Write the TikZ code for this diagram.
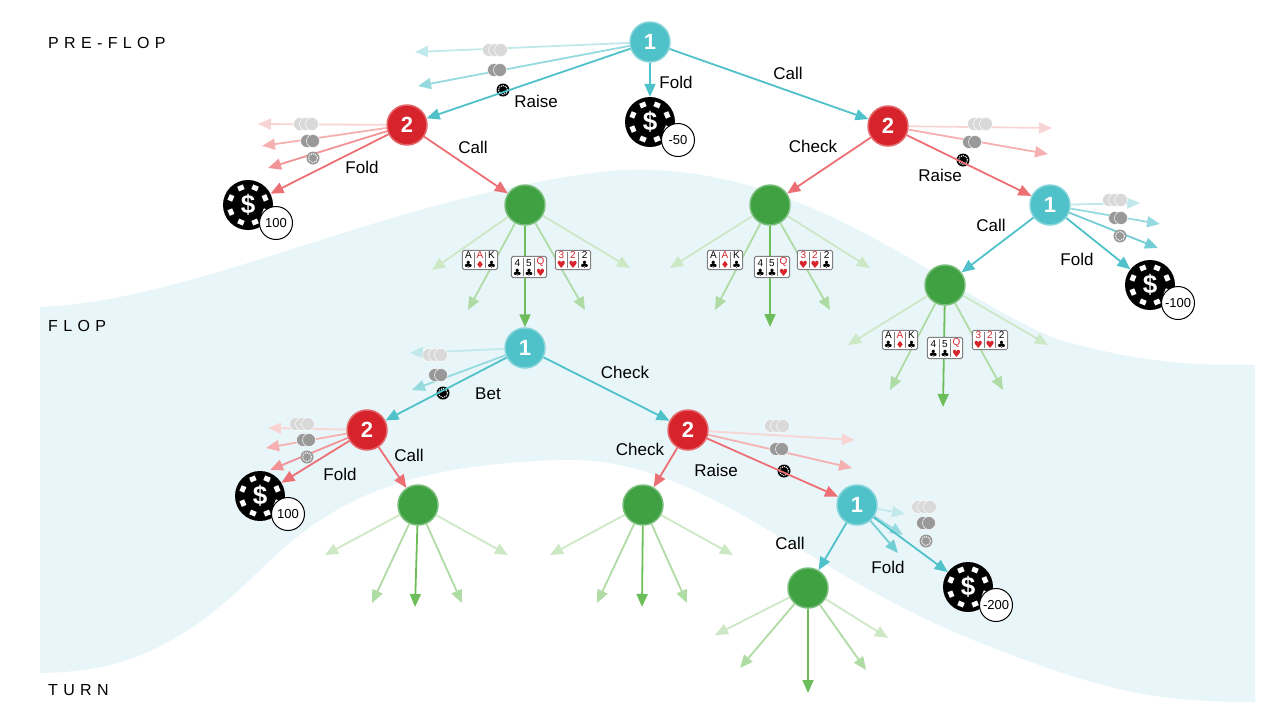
\documentclass[tikz,border=0pt]{standalone}
\usepackage{fontspec}
\setmainfont{Liberation Sans}
\newfontfamily\symf{DejaVu Sans}
\usetikzlibrary{arrows.meta,calc}
\definecolor{cy}{HTML}{4FC1C9}
\definecolor{rd}{HTML}{D7242C}
\definecolor{gn}{HTML}{3FA142}
\definecolor{pk}{HTML}{EC6F74}
\definecolor{ga}{HTML}{6DBE5A}
\definecolor{bg}{HTML}{E9F6F9}
\tikzset{
 arr/.style={-{Triangle[length=13pt,width=11pt]},line width=1.8pt},
 pone/.style={circle,fill=cy,draw=cy!70!white,line width=1.5pt,minimum size=40pt,inner sep=0pt,text=white,font=\fontsize{22}{22}\selectfont\bfseries},
 ptwo/.style={pone,fill=rd,draw=rd!70!white},
 chance/.style={circle,fill=gn,draw=gn!70!white,line width=1.5pt,minimum size=40pt,inner sep=0pt},
 lbl/.style={font=\fontsize{17}{17}\selectfont,inner sep=1pt},
 stage/.style={font=\fontsize{16}{16}\selectfont,anchor=west,inner sep=0pt},
 bchip/.style={circle,fill=black,minimum size=50pt,inner sep=0pt,text=white,font=\fontsize{26}{26}\selectfont\bfseries},
 vchip/.style={circle,fill=white,draw=black,line width=1pt,minimum size=33pt,inner sep=0pt,font=\fontsize{13}{13}\selectfont},
 cards/.style={draw=gray,fill=white,rounded corners=1.5pt,line width=1pt,inner sep=1.5pt,font=\fontsize{10}{10}\selectfont}
}
\newcommand\BigChip[3]{%
 \node[bchip] (#1) at (#2) {\$};
 \foreach \a in {22.5,67.5,...,337.5}{\fill[white,rotate around={\a:(#1)}] ($(#1)+(16,-3)$) rectangle ++(5,6);}
 \node[vchip] (#1v) at ($(#1)+(28,18)$) {#3};}
\newcommand\ChipC[2]{\node[circle,minimum size=13pt,inner sep=0pt] (#1) at (#2) {};
 \foreach \d in {-6,0,6}{\fill[gray!30,draw=white,line width=0.5pt] ($(#1)+(\d,0)$) circle (6.5pt);}}
\newcommand\ChipB[2]{\node[circle,minimum size=13pt,inner sep=0pt] (#1) at (#2) {};
 \foreach \d in {-3,3}{\fill[gray!80,draw=white,line width=0.5pt] ($(#1)+(\d,0)$) circle (6.5pt);}}
\newcommand\ChipA[3]{\node[circle,fill=#3,minimum size=13pt,inner sep=0pt] (#1) at (#2) {};
 \draw[white,densely dotted,line width=1pt] (#1) circle (4.5pt);}
\newcommand\cc[3]{\textcolor{#3}{\shortstack{#1\\[-1pt]{\symf #2}}}}
\newcommand\sep{\hspace{1pt}\textcolor{gray}{\vrule width 0.6pt}\hspace{1pt}}
\newcommand\CardsAAK{\cc{A}{♣}{black}\sep\cc{A}{♦}{rd}\sep\cc{K}{♣}{black}}
\newcommand\CardsFQ{\cc{4}{♣}{black}\sep\cc{5}{♣}{black}\sep\cc{Q}{♥}{rd}}
\newcommand\CardsTT{\cc{3}{♥}{rd}\sep\cc{2}{♥}{rd}\sep\cc{2}{♣}{black}}
\begin{document}
\begin{tikzpicture}[x=1pt,y=-1pt]
\useasboundingbox (0,0) rectangle (1280,721);
% background band
\fill[bg] (40,307) .. controls (200,300) and (380,200) .. (600,172)
 .. controls (800,150) and (950,300) .. (1060,340)
 .. controls (1150,365) and (1200,365) .. (1255,365)
 -- (1255,702) .. controls (1150,702) and (1100,690) .. (973,640)
 .. controls (800,570) and (700,455) .. (560,460)
 .. controls (420,465) and (340,490) .. (260,570)
 .. controls (180,650) and (120,672) .. (40,673) -- cycle;
\node[stage] at (48,43) {P\,\,R\,\,E\,\,-\,\,F\,\,L\,\,O\,\,P};
\node[stage] at (48,326) {F\,\,L\,\,O\,\,P};
\node[stage] at (48,690) {T\,\,U\,\,R\,\,N};

% ---------- nodes ----------
\node[pone] (A) at (650,42) {1};
\node[ptwo] (B) at (407,125) {2};
\node[ptwo] (C) at (888,126) {2};
\node[chance] (G1) at (525,205) {};
\node[chance] (G2) at (770,205) {};
\node[pone] (D) at (1050,205) {1};
\node[chance] (G3) at (945,285) {};
\node[pone] (E) at (525,348) {1};
\node[ptwo] (F) at (367,430) {2};
\node[ptwo] (H) at (688,430) {2};
\node[chance] (G4) at (418,505) {};
\node[chance] (G5) at (643,505) {};
\node[pone] (I) at (857,505) {1};
\node[chance] (G6) at (808,588) {};
\BigChip{Ka}{650,122}{-50}
\BigChip{Kb}{248,205}{100}
\BigChip{Kc}{1150,285}{-100}
\BigChip{Kd}{260,496}{100}
\BigChip{Ke}{968,587}{-200}

% ---------- ghost arrows ----------
\coordinate (a1) at (415,52); \coordinate (a2) at (418,86);
\draw[arr,cy!35] (A) -- (a1); \draw[arr,cy!60] (A) -- (a2);
\ChipC{ca1}{495,50} \ChipB{ca2}{497,70} \ChipA{ca3}{503,90}{black}
\coordinate (b1) at (258,124); \coordinate (b2) at (262,146); \coordinate (b3) at (268,168);
\draw[arr,pk!30] (B) -- (b1); \draw[arr,pk!55] (B) -- (b2); \draw[arr,pk!75] (B) -- (b3);
\ChipC{cb1}{306,124} \ChipB{cb2}{310,141} \ChipA{cb3}{313,158}{gray!80}
\coordinate (c1) at (1052,128); \coordinate (c2) at (1048,154);
\draw[arr,pk!30] (C) -- (c1); \draw[arr,pk!55] (C) -- (c2);
\ChipC{cc1}{980,124} \ChipB{cc2}{972,142} \ChipA{cc3}{963,160}{black}
\coordinate (d1) at (1140,203); \coordinate (d2) at (1160,224); \coordinate (d3) at (1158,248);
\draw[arr,cy!35] (D) -- (d1); \draw[arr,cy!60] (D) -- (d2); \draw[arr,cy!80] (D) -- (d3);
\ChipC{cd1}{1115,200} \ChipB{cd2}{1118,218} \ChipA{cd3}{1120,236}{gray!80}
\coordinate (e1) at (410,353); \coordinate (e2) at (412,390);
\draw[arr,cy!35] (E) -- (e1); \draw[arr,cy!60] (E) -- (e2);
\ChipC{ce1}{435,355} \ChipB{ce2}{438,375} \ChipA{ce3}{443,393}{black}
\coordinate (f1) at (268,428); \coordinate (f2) at (266,448); \coordinate (f3) at (270,470);
\draw[arr,pk!30] (F) -- (f1); \draw[arr,pk!55] (F) -- (f2); \draw[arr,pk!75] (F) -- (f3);
\ChipC{cf1}{302,424} \ChipB{cf2}{306,440} \ChipA{cf3}{307,457}{gray!80}
\coordinate (h1) at (855,440); \coordinate (h2) at (852,468);
\draw[arr,pk!30] (H) -- (h1); \draw[arr,pk!55] (H) -- (h2);
\ChipC{ch1}{777,426} \ChipB{ch2}{779,449} \ChipA{ch3}{784,471}{black}
\coordinate (i1) at (905,514); \coordinate (i2) at (903,535); \coordinate (i3) at (898,553);
\draw[arr,cy!35] (I) -- (i1); \draw[arr,cy!60] (I) -- (i2); \draw[arr,cy!80] (I) -- (i3);
\ChipC{ci1}{924,507} \ChipB{ci2}{926,523} \ChipA{ci3}{926,541}{gray!80}

% ---------- real action arrows ----------
\draw[arr,cy] (A) -- (Ka); \node[lbl] at (676,82) {Fold};
\draw[arr,cy] (A) -- (B); \node[lbl] at (536,101) {Raise};
\draw[arr,cy] (A) -- (C); \node[lbl] at (788,73) {Call};
\draw[arr,pk] (B) -- (Kb); \node[lbl] at (362,167) {Fold};
\draw[arr,pk] (B) -- (G1); \node[lbl] at (473,147) {Call};
\draw[arr,pk] (C) -- (G2); \node[lbl] at (813,146) {Check};
\draw[arr,pk] (C) -- (D); \node[lbl] at (940,175) {Raise};
\draw[arr,cy] (D) -- (G3); \node[lbl] at (991,225) {Call};
\draw[arr,cy] (D) -- (Kc); \node[lbl] at (1077,259) {Fold};
\draw[arr,ga] (G1) -- (E);
\draw[arr,cy] (E) -- (F); \node[lbl] at (488,394) {Bet};
\draw[arr,cy] (E) -- (H); \node[lbl] at (625,372) {Check};
\draw[arr,pk] (F) -- (Kd); \node[lbl] at (340,474) {Fold};
\draw[arr,pk] (F) -- (G4); \node[lbl] at (409,455) {Call};
\draw[arr,pk] (H) -- (G5); \node[lbl] at (640,449) {Check};
\draw[arr,pk] (H) -- (I); \node[lbl] at (716,470) {Raise};
\draw[arr,cy] (I) -- (G6); \node[lbl] at (790,543) {Call};
\draw[arr,cy] (I) -- (Ke); \node[lbl] at (888,567) {Fold};

% ---------- chance fans ----------
\newcommand\Fan[6]{%
 \coordinate (#1l1) at ($(#1)+(#2)$); \coordinate (#1l2) at ($(#1)+(#3)$);
 \coordinate (#1m) at ($(#1)+(#4)$); \coordinate (#1r2) at ($(#1)+(#5)$); \coordinate (#1r1) at ($(#1)+(#6)$);
 \draw[arr,ga!35] (#1) -- (#1l1); \draw[arr,ga!55] (#1) -- (#1l2);
 \draw[arr,ga!55] (#1) -- (#1r2); \draw[arr,ga!35] (#1) -- (#1r1);}
\Fan{G1}{-93,65}{-57,105}{0,0}{60,105}{105,63}
\Fan{G2}{-100,63}{-55,105}{0,0}{60,105}{100,63}
\coordinate (G2m) at (770,327); \draw[arr,ga] (G2) -- (G2m);
\Fan{G3}{-97,60}{-55,105}{0,0}{58,105}{103,60}
\coordinate (G3m) at (943,407); \draw[arr,ga] (G3) -- (G3m);
\node[cards] at (480,260) {\CardsAAK}; \node[cards] at (529,267) {\CardsFQ}; \node[cards] at (573,260) {\CardsTT};
\node[cards] at (725,260) {\CardsAAK}; \node[cards] at (772,267) {\CardsFQ}; \node[cards] at (815,260) {\CardsTT};
\node[cards] at (900,340) {\CardsAAK}; \node[cards] at (945,348) {\CardsFQ}; \node[cards] at (990,340) {\CardsTT};
\Fan{G4}{-93,50}{-46,98}{0,0}{44,98}{90,50}
\coordinate (G4m) at (415,607); \draw[arr,ga] (G4) -- (G4m);
\Fan{G5}{-93,50}{-46,98}{0,0}{44,98}{90,50}
\coordinate (G5m) at (642,607); \draw[arr,ga] (G5) -- (G5m);
\Fan{G6}{-93,47}{-68,80}{0,0}{58,82}{80,50}
\coordinate (G6m) at (808,693); \draw[arr,ga] (G6) -- (G6m);
\end{tikzpicture}
\end{document}
